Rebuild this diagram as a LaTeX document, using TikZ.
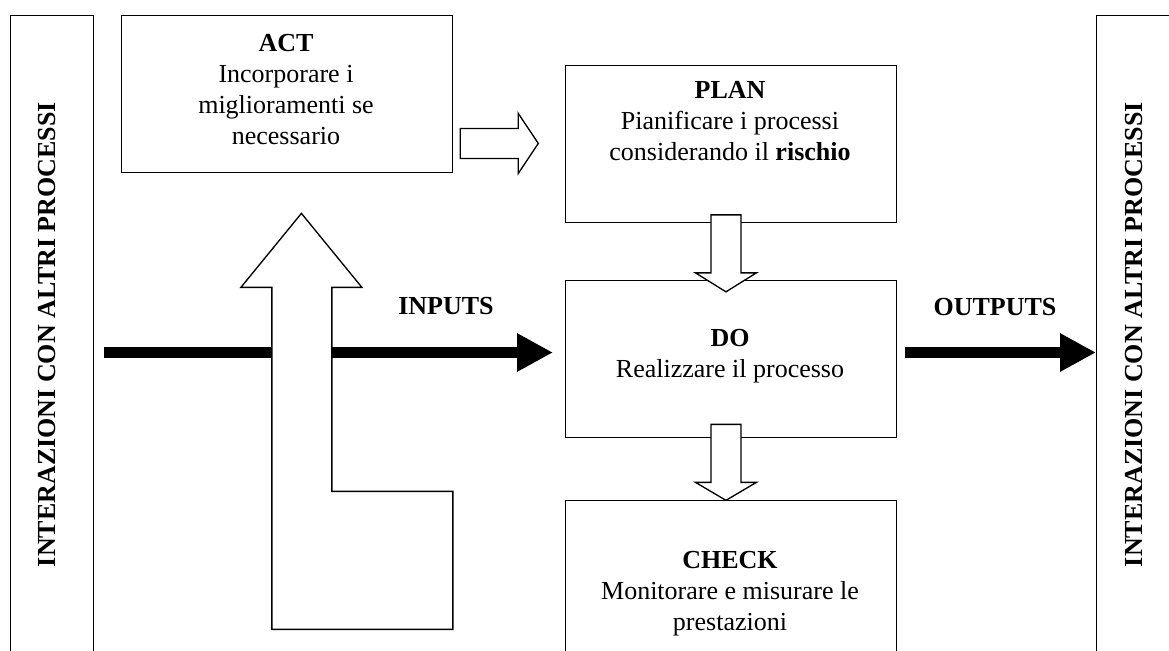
\documentclass[tikz,border=0pt]{standalone}
\usepackage{fontspec}
\setmainfont{Liberation Serif}
\usetikzlibrary{arrows.meta,calc}
\begin{document}
\begin{tikzpicture}[x=0.75pt,y=-0.75pt]
\tikzset{
  frame/.style={draw, line width=1pt, anchor=north west, inner sep=0pt},
  txt/.style={font=\fontsize{19.5pt}{23.25pt}\selectfont, align=center, inner sep=0pt},
  tag/.style={font=\fontsize{19.5pt}{23.25pt}\selectfont\bfseries, inner sep=0pt},
  side/.style={tag, rotate=90},
  hollow/.style={draw, fill=white, line width=1pt, line join=miter},
  flow/.style={line width=8.25pt, -{Triangle[length=27pt,width=27pt]}},
}
\useasboundingbox (0,0) rectangle (1169,650);

% side panels
\node[frame, minimum width=62.6pt, minimum height=495pt] (leftbar) at (9.5,15) {};
\node[frame, minimum width=67.5pt, minimum height=495pt] (rightbar) at (1096,15) {};
\node[side] (lefttext) at (47,334.5) {INTERAZIONI CON ALTRI PROCESSI};
\node[side] (righttext) at (1134,334.5) {INTERAZIONI CON ALTRI PROCESSI};

% PDCA boxes
\node[frame, minimum width=248.6pt, minimum height=117.4pt] (act) at (120.5,15) {};
\node[frame, minimum width=247.9pt, minimum height=117.75pt] (plan) at (565,65) {};
\node[frame, minimum width=247.9pt, minimum height=117.75pt] (do) at (565,279.5) {};
\node[frame, minimum width=247.9pt, minimum height=150pt] (check) at (565,500) {};

\node[txt, anchor=north] (acttext) at (286,34.5) {\textbf{ACT}\\Incorporare i\\miglioramenti se\\necessario};
\node[txt, anchor=north] (plantext) at (730,81.5) {\textbf{PLAN}\\Pianificare i processi\\considerando il \textbf{rischio}};
\node[txt, anchor=north] (dotext) at (730,329) {\textbf{DO}\\Realizzare il processo};
\node[txt, anchor=north] (checktext) at (730,551) {\textbf{CHECK}\\Monitorare e misurare le\\prestazioni};

% inputs / outputs
\node[tag] (inputs) at (446,306) {INPUTS};
\node[tag] (outputs) at (995,306.7) {OUTPUTS};
\coordinate (inStart) at (104,352.5);
\coordinate (outStart) at (905,352.5);
\draw[flow, shorten >=9pt] (inStart) -- (inStart -| do.west);
\draw[flow] (outStart) -- (outStart -| rightbar.west);

% improvement loop from CHECK back up to ACT
\draw[hollow] ($(act.south)+(14.5,40.5)$) -- ++(60.5,74) -- ++(-30,0) -- ++(0,204)
  -- ++(121,0) -- ++(0,138) -- ++(-181,0) -- ++(0,-342) -- ++(-31,0) -- cycle;

% ACT -> PLAN
\draw[hollow] ($(act.east)+(7,34.5)$) -- ++(58,0) -- ++(0,-15) -- ++(20,30)
  -- ++(-20,30) -- ++(0,-15) -- ++(-58,0) -- cycle;

% PLAN -> DO
\draw[hollow] ($(plan.south)+(-20,-8.5)$) -- ++(30,0) -- ++(0,58) -- ++(15.5,0)
  -- ++(-30.5,19) -- ++(-30.5,-19) -- ++(15.5,0) -- cycle;

% DO -> CHECK
\draw[hollow] ($(do.south)+(-20,-13.5)$) -- ++(30,0) -- ++(0,58) -- ++(15.5,0)
  -- ++(-30.5,18) -- ++(-30.5,-18) -- ++(15.5,0) -- cycle;
\end{tikzpicture}
\end{document}
